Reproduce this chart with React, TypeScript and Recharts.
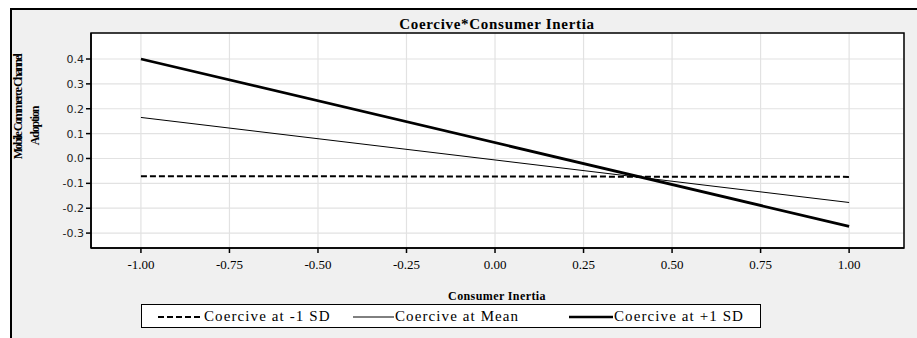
import React from 'react';
import { LineChart, Line, XAxis, YAxis, CartesianGrid, usePlotArea } from 'recharts';

const xValues = [-1, 1];
const minus1SD = [-0.071, -0.074];
const atMean = [0.165, -0.177];
const plus1SD = [0.4, -0.273];
const xTicks = [-1, -0.75, -0.5, -0.25, 0, 0.25, 0.5, 0.75, 1];
const yTicks = [-0.3, -0.2, -0.1, 0, 0.1, 0.2, 0.3, 0.4];
const seriesNames = ['Coercive at -1 SD', 'Coercive at Mean', 'Coercive at +1 SD'];
const title = 'Coercive*Consumer Inertia';
const xLabel = 'Consumer Inertia';
const yLabel1 = 'Mobile Commerce Channel';
const yLabel2 = 'Adoption';

const data = xValues.map((x, i) => ({ x, m1: minus1SD[i], mean: atMean[i], p1: plus1SD[i] }));

const PlotBorder = () => {
  const area = usePlotArea();
  if (!area) return null;
  return (
    <rect x={area.x} y={area.y} width={area.width} height={area.height} fill="none" stroke="#000" strokeWidth={1.5} />
  );
};

const serif = '"Liberation Serif", "Times New Roman", serif';

const legendLayout = [
  { lineLeft: 16, lineWidth: 42, textLeft: 62 },
  { lineLeft: 211, lineWidth: 41, textLeft: 253 },
  { lineLeft: 427, lineWidth: 44, textLeft: 472 },
];

const LegendBox = () => (
  <div
    style={{
      position: 'absolute',
      left: 141,
      top: 304,
      width: 618,
      height: 22,
      background: '#fff',
      border: '1.5px solid #000',
      fontFamily: serif,
      fontSize: 15,
      color: '#000',
      boxSizing: 'content-box',
    }}
  >
    {seriesNames.map((n, i) => (
      <React.Fragment key={n}>
        <svg width={legendLayout[i].lineWidth} height={8} style={{ position: 'absolute', left: legendLayout[i].lineLeft, top: 8 }}>
          <line
            x1={0}
            y1={4}
            x2={legendLayout[i].lineWidth}
            y2={4}
            stroke="#000"
            strokeWidth={i === 2 ? 2.5 : i === 0 ? 2 : 1}
            strokeDasharray={i === 0 ? '6 3' : undefined}
          />
        </svg>
        <span
          style={{
            position: 'absolute',
            left: legendLayout[i].textLeft,
            top: 1,
            whiteSpace: 'nowrap',
            letterSpacing: 1.1,
            lineHeight: '20px',
          }}
        >
          {n}
        </span>
      </React.Fragment>
    ))}
  </div>
);

export default function App() {
  return (
    <div style={{ position: 'absolute', left: 0, top: 0, width: 917, height: 338, background: '#fff', overflow: 'hidden' }}>
      <div
        style={{
          position: 'absolute',
          left: 10,
          top: 8,
          width: 907,
          height: 330,
          background: '#f0f0f0',
          borderTop: '2px solid #000',
          borderLeft: '2px solid #000',
        }}
      />
      <div style={{ position: 'absolute', left: 0, top: 0 }}>
        <LineChart width={917} height={338} data={data} margin={{ top: 33, right: 13, bottom: 60, left: 51 }}>
          <CartesianGrid stroke="#e2e2e2" strokeWidth={1.2} fill="#fff" />
          <XAxis
            dataKey="x"
            type="number"
            domain={[-1.141, 1.155]}
            ticks={xTicks}
            tickFormatter={(v: number) => v.toFixed(2)}
            height={30}
            axisLine={{ stroke: '#000', strokeWidth: 1.5 }}
            tickLine={{ stroke: '#000', strokeWidth: 1.5 }}
            tickSize={5}
            tick={{ fill: '#000', fontFamily: serif, fontSize: 13, dy: 5 }}
            allowDataOverflow
          />
          <YAxis
            type="number"
            domain={[-0.36, 0.5046]}
            ticks={yTicks}
            tickFormatter={(v: number) => v.toFixed(1)}
            width={40}
            axisLine={{ stroke: '#000', strokeWidth: 1.5 }}
            tickLine={{ stroke: '#000', strokeWidth: 1.5 }}
            tickSize={5}
            tick={{ fill: '#222', fontFamily: '"DejaVu Sans", sans-serif', fontSize: 11 }}
            allowDataOverflow
          />
          <Line dataKey="m1" stroke="#000" strokeWidth={2} strokeDasharray="6 3" dot={false} isAnimationActive={false} />
          <Line dataKey="mean" stroke="#000" strokeWidth={1} dot={false} isAnimationActive={false} />
          <Line dataKey="p1" stroke="#000" strokeWidth={2.7} dot={false} isAnimationActive={false} />
          <PlotBorder />
          <text x={497} y={29} textAnchor="middle" fontFamily={serif} fontWeight="bold" fontSize={15} fill="#000" letterSpacing={0.7}>
            {title}
          </text>
          <text x={497} y={300} textAnchor="middle" fontFamily={serif} fontWeight="bold" fontSize={12} fill="#000" letterSpacing={0.4}>
            {xLabel}
          </text>
          <text
            x={0}
            y={0}
            transform="translate(22,107) rotate(-90)"
            textAnchor="middle"
            fontFamily={serif}
            fontWeight="bold"
            fontSize={12}
            fill="#000"
            letterSpacing={-1.6}
          >
            {yLabel1}
          </text>
          <text
            x={0}
            y={0}
            transform="translate(39,126) rotate(-90)"
            textAnchor="middle"
            fontFamily={serif}
            fontWeight="bold"
            fontSize={12}
            fill="#000"
            letterSpacing={-1.2}
          >
            {yLabel2}
          </text>
        </LineChart>
      </div>
      <LegendBox />
    </div>
  );
}
